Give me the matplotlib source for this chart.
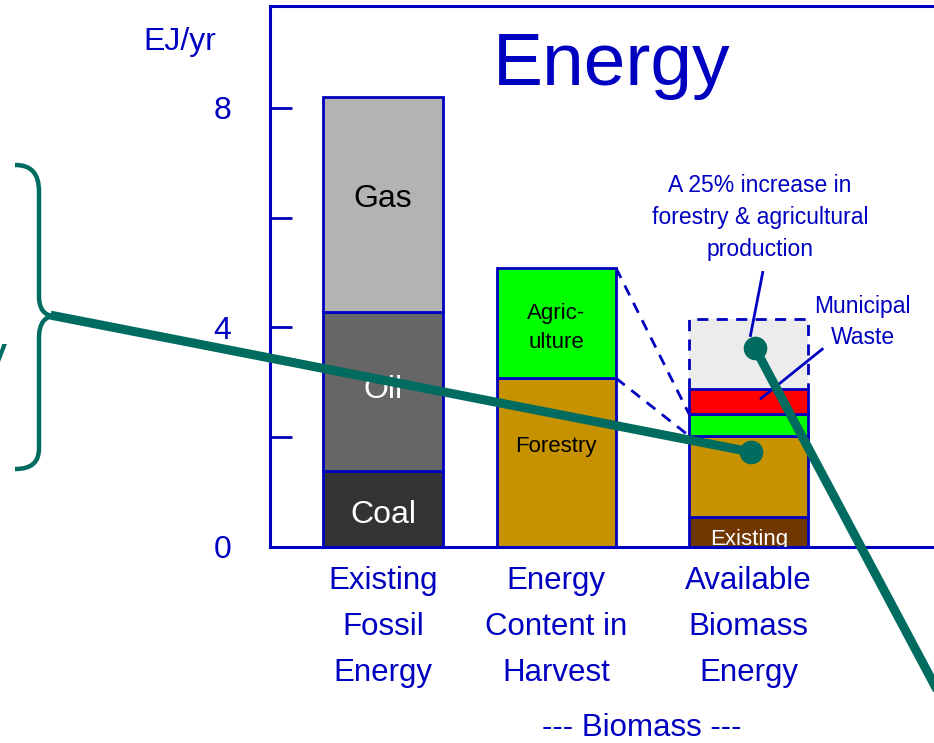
import numpy as np
import matplotlib
matplotlib.use('Agg')
import matplotlib.pyplot as plt
from matplotlib.lines import Line2D
from matplotlib.patches import PathPatch
from matplotlib.path import Path
from matplotlib.transforms import Affine2D

plt.rcParams['font.family'] = ['Liberation Sans', 'DejaVu Sans']

# data (EJ/yr)
categories = ['Existing\nFossil\nEnergy', 'Energy\nContent in\nHarvest', 'Available\nBiomass\nEnergy']
fossil_names = ['Coal', 'Oil', 'Gas']
fossil_vals = [1.38, 2.90, 3.92]
harvest_names = ['Forestry', 'Agric-\nulture']
harvest_vals = [3.07, 2.01]
avail_names = ['Existing', 'Forestry', 'Agriculture', 'Municipal Waste', 'Increase']
avail_vals = [0.53, 1.49, 0.40, 0.46, 1.27]
yticks = [0, 2, 4, 6, 8]
ylabels = ['0', '', '4', '', '8']

blue = '#0000C0'
teal = '#006B5F'
W, H = 934, 743

fig = plt.figure(figsize=(W / 100, H / 100), dpi=100)
ax = fig.add_axes([270 / W, (H - 546.5) / H, 730 / W, 540.5 / H])
ax.set_xlim(-0.646, 3.526)
ax.set_ylim(0, 9.86)

pos = [0, 0.99, 2.09]
bw = 0.683

def stack(x, vals, colors, edge=True):
    bottom = 0
    for v, c in zip(vals, colors):
        ax.bar(x, v, bw, bottom=bottom, color=c,
               edgecolor=blue if edge else 'none', linewidth=2, zorder=2)
        bottom += v

stack(pos[0], fossil_vals, ['#333333', '#666666', '#B3B3B3'])
stack(pos[1], harvest_vals, ['#C69200', '#00FF00'])
stack(pos[2], avail_vals[:4], ['#703800', '#C69200', '#00FF00', '#FF0000'])

# dashed "increase" box
base = sum(avail_vals[:4])
top = base + avail_vals[4]
ax.bar(pos[2], avail_vals[4], bw, bottom=base, color='#ECECEC', edgecolor='none', zorder=1)
xl, xr = pos[2] - bw / 2, pos[2] + bw / 2
ax.plot([xl, xl, xr, xr], [base, top, top, base], color=blue, lw=2,
        dashes=(4, 3), zorder=3, solid_capstyle='butt')

# dashed links from harvest bar to available bar
h_tops = np.cumsum(harvest_vals)
a_tops = np.cumsum(avail_vals)
for y0, y1 in [(h_tops[1], a_tops[2]), (h_tops[0], a_tops[1])]:
    ax.plot([pos[1] + bw / 2, xl], [y0, y1], color=blue, lw=2, dashes=(4, 3), zorder=3)

# labels inside bars
c = np.cumsum([0] + fossil_vals)
ax.text(pos[0], (c[2] + c[3]) / 2 + 0.1, 'Gas', ha='center', va='center', fontsize=23, color='black', zorder=4)
ax.text(pos[0], (c[1] + c[2]) / 2 + 0.02, 'Oil', ha='center', va='center', fontsize=23, color='white', zorder=4)
ax.text(pos[0], c[1] / 2 - 0.12, 'Coal', ha='center', va='center', fontsize=23, color='white', zorder=4)
ax.text(pos[1], h_tops[0] + harvest_vals[1] / 2 - 0.08, harvest_names[1], ha='center', va='center',
        fontsize=16, color='black', linespacing=1.5, zorder=4)
ax.text(pos[1], 1.82, harvest_names[0], ha='center', va='center', fontsize=16, color='black', zorder=4)
ax.text(pos[2], 0.03, 'Existing', ha='center', va='baseline', fontsize=16, color='white',
        zorder=4, clip_on=True)

# annotations
ax.text(pos[2] + 0.064, 6.0, 'A 25% increase in\nforestry & agricultural\nproduction', ha='center',
        va='center', fontsize=16.5, color=blue, linespacing=1.5)
ax.plot([pos[2] + 0.08, pos[2] + 0.01], [5.0, 3.85], color=blue, lw=2)
ax.text(pos[2] + 0.65, 4.09, 'Municipal\nWaste', ha='center', va='center', fontsize=16.5,
        color=blue, linespacing=1.45)
ax.plot([pos[2] + 0.42, pos[2] + 0.07], [3.6, 2.7], color=blue, lw=2)

ax.text(0.468, 0.89, 'Energy', transform=ax.transAxes, ha='center', va='center', fontsize=54,
        color=blue)
ax.text(-0.124, 0.933, 'EJ/yr', transform=ax.transAxes, ha='center', va='center', fontsize=23,
        color=blue)

# axes styling
for s in ['left', 'top', 'bottom']:
    ax.spines[s].set_color(blue)
    ax.spines[s].set_linewidth(2.2)
ax.spines['right'].set_visible(False)
ax.set_yticks(yticks)
ax.set_yticklabels(ylabels)
ax.tick_params(axis='y', direction='in', length=16, width=2, color=blue,
               labelcolor=blue, labelsize=23, pad=28)
ax.set_xticks(pos)
ax.set_xticklabels(categories, linespacing=1.7)
ax.tick_params(axis='x', length=0, labelcolor=blue, labelsize=22.5, pad=14)
ax.text(pos[1] + 0.49, -3.32, '--- Biomass ---', ha='center', va='center', fontsize=22.5,
        color=blue, clip_on=False)

# teal overlay drawn in pixel coordinates of the figure
pix = Affine2D().scale(1 / W, -1 / H).translate(0, 1) + fig.transFigure
verts = [(15, 165), (32, 165), (39, 174), (39, 192), (39, 296), (39, 310), (45, 316), (55, 316),
         (45, 316), (39, 323), (39, 338), (39, 448), (39, 462), (32, 469), (15, 469)]
codes = [Path.MOVETO, Path.CURVE4, Path.CURVE4, Path.CURVE4, Path.LINETO,
         Path.CURVE4, Path.CURVE4, Path.CURVE4, Path.CURVE4, Path.CURVE4, Path.CURVE4,
         Path.LINETO, Path.CURVE4, Path.CURVE4, Path.CURVE4]
fig.add_artist(PathPatch(Path(verts, codes), facecolor='none', edgecolor=teal, lw=3.2,
                         transform=pix, zorder=10))
fig.add_artist(Line2D([55, 751], [316, 452], color=teal, lw=6.5, transform=pix, zorder=10))
fig.add_artist(Line2D([751], [452], marker='o', ms=16, color=teal, transform=pix, zorder=11))
fig.add_artist(Line2D([755, 1000], [348, 808], color=teal, lw=6.5, transform=pix, zorder=10))
fig.add_artist(Line2D([755], [348], marker='o', ms=16, color=teal, transform=pix, zorder=11))
fig.text(7 / W, 1 - 371 / H, 'y', ha='right', va='baseline', fontsize=36, color=teal)

fig.savefig('out.png', dpi=100)
